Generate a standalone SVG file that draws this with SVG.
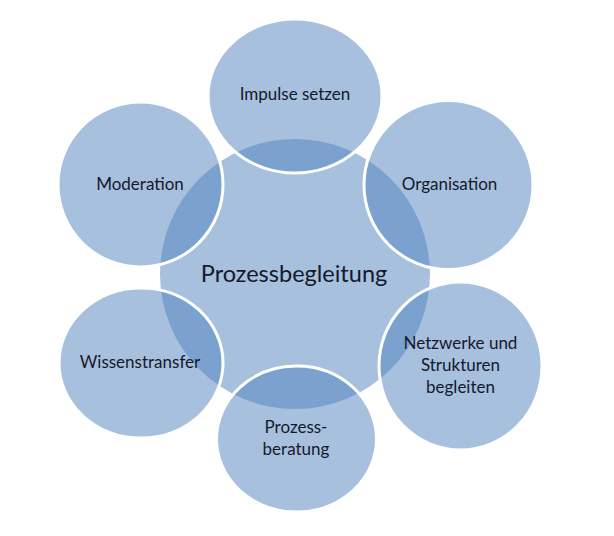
<svg xmlns="http://www.w3.org/2000/svg" width="614" height="536" viewBox="0 0 614 536">
  <style>
    .bg { fill: #ffffff; }
    .hub { fill: #4f81bd; fill-opacity: 0.5; }
    .sat { fill: #4f81bd; fill-opacity: 0.5; stroke: #ffffff; stroke-width: 3; }
    .lbl { font-family: Lato, "Open Sans", "Liberation Sans", sans-serif; font-size: 17px; fill: #15192b; text-anchor: middle; }
    .hublbl { font-family: Lato, "Open Sans", "Liberation Sans", sans-serif; font-size: 23.5px; fill: #15192b; text-anchor: middle; }
  </style>
  <rect class="bg" x="0" y="0" width="614" height="536"/>
  <g id="center">
    <circle class="hub" cx="295" cy="274" r="135"/>
  </g>
  <g id="connectors"/>
  <g id="impulse">
    <ellipse class="sat" cx="295" cy="96" rx="87" ry="77"/>
    <text class="lbl" x="295" y="100">Impulse setzen</text>
  </g>
  <g id="organisation">
    <ellipse class="sat" cx="448.5" cy="185" rx="84.5" ry="84.5"/>
    <text class="lbl" x="449.5" y="190">Organisation</text>
  </g>
  <g id="netzwerke">
    <ellipse class="sat" cx="460.5" cy="366" rx="81.5" ry="84"/>
    <text class="lbl" x="460.5" y="349">Netzwerke und</text>
    <text class="lbl" x="460.5" y="371">Strukturen</text>
    <text class="lbl" x="460.5" y="393">begleiten</text>
  </g>
  <g id="prozessberatung">
    <ellipse class="sat" cx="296.5" cy="439" rx="80" ry="73"/>
    <text class="lbl" x="296" y="433">Prozess-</text>
    <text class="lbl" x="296" y="455">beratung</text>
  </g>
  <g id="wissenstransfer">
    <ellipse class="sat" cx="141" cy="363" rx="82" ry="75"/>
    <text class="lbl" x="140" y="368">Wissenstransfer</text>
  </g>
  <g id="moderation">
    <ellipse class="sat" cx="140.5" cy="184.5" rx="82.5" ry="82.5"/>
    <text class="lbl" x="140" y="190">Moderation</text>
  </g>
  <g id="center-label">
    <text class="hublbl" x="294" y="282">Prozessbegleitung</text>
  </g>
</svg>
